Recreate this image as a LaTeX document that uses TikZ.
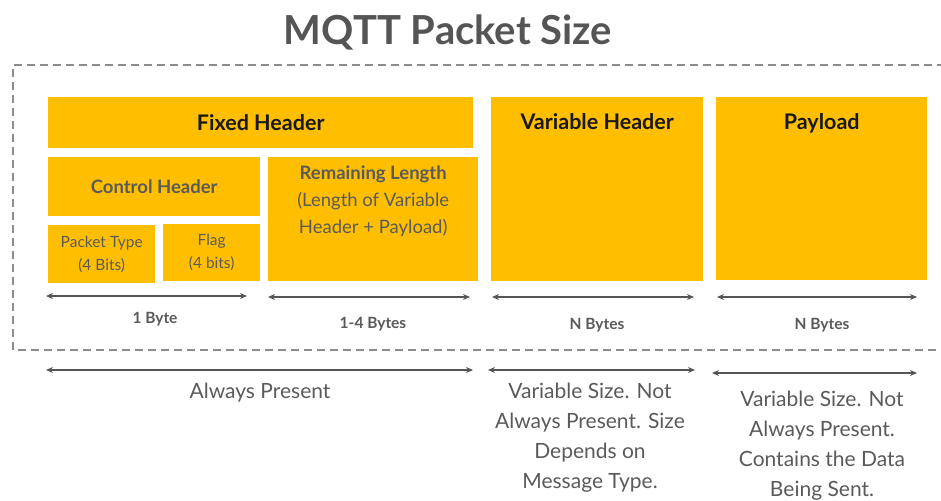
\documentclass[tikz,border=0pt]{standalone}
\usepackage{fontspec}
\setmainfont{Lato}
\usepackage{tikz}
\usetikzlibrary{positioning,arrows.meta}

\definecolor{amber}{HTML}{FFBF00}
\definecolor{txtgray}{HTML}{5A5A5A}
\definecolor{linegray}{HTML}{555555}

\begin{document}
\begin{tikzpicture}[x=1pt,y=-1pt]
\tikzstyle{blk}=[rectangle, fill=amber, inner sep=0pt, anchor=north west]
\tikzstyle{head}=[font=\fontsize{21.5}{24}\selectfont\bfseries, text=black!90, text depth=0.25ex]
\tikzstyle{sub}=[font=\fontsize{18.5}{27}\selectfont, text=txtgray, align=center]
\tikzstyle{small}=[font=\fontsize{15.5}{23}\selectfont, text=txtgray, align=center]
\tikzstyle{size}=[font=\fontsize{15.5}{17}\selectfont\bfseries, text=txtgray]
\tikzstyle{note}=[font=\fontsize{21}{30}\selectfont, text=txtgray, align=center, anchor=north]
\tikzstyle{span}=[{Stealth[length=7pt,width=6pt]}-{Stealth[length=7pt,width=6pt]}, line width=1.8pt, draw=linegray]
\useasboundingbox (0,0) rectangle (941,500);

  \node[font=\fontsize{40}{44}\selectfont\bfseries, text=linegray] (title) at (448,32) {MQTT Packet Size};

  % dashed frame, open on the right
  \draw[draw=gray!90, line width=1.5pt, dash pattern=on 8pt off 5pt] (945,65) -- (13,65) -- (13,350) -- (945,350);

  \node[blk, head, minimum width=425, minimum height=51] (fixed) at (48,97) {Fixed Header};
  \node[blk, minimum width=212, minimum height=59] (ctrl) at (48,157) {};
  \node[sub, font=\fontsize{18.5}{27}\selectfont\bfseries] at (ctrl.center) {Control Header};
  \node[blk, small, minimum width=107, minimum height=58] (ptype) at (48,225) {Packet Type\\(4 Bits)};
  \node[blk, small, minimum width=97, minimum height=57] (flag) at (163,224) {Flag\\(4 bits)};
  \node[blk, minimum width=210, minimum height=124] (remain) at (268,157) {};
  \node[sub, anchor=north] (remaintxt) at ([yshift=-5pt]remain.north) {\textbf{Remaining Length}\\(Length of Variable\\Header + Payload)};
  \node[blk, minimum width=212, minimum height=184] (varh) at (491,97) {};
  \node[head] at ([yshift=-25pt]varh.north) {Variable Header};
  \node[blk, minimum width=211, minimum height=183] (pay) at (716,97) {};
  \node[head] at ([yshift=-25pt]pay.north) {Payload};

  % byte counts
  \coordinate (b1l) at (46,296);  \coordinate (b1r) at (247,296);
  \coordinate (b2l) at (268,297); \coordinate (b2r) at (470,297);
  \coordinate (b3l) at (492,297); \coordinate (b3r) at (694,297);
  \coordinate (b4l) at (717,297); \coordinate (b4r) at (917,297);
  \draw[span] (b1l) -- (b1r);
  \draw[span] (b2l) -- (b2r);
  \draw[span] (b3l) -- (b3r);
  \draw[span] (b4l) -- (b4r);
  \node[size] (byte1) at (155,319) {1 Byte};
  \node[size] (byte2) at (373,324) {1-4 Bytes};
  \node[size] (byte3) at (597,325) {N Bytes};
  \node[size] (byte4) at (822,325) {N Bytes};

  % below the frame
  \coordinate (c1l) at (46,370);  \coordinate (c1r) at (473,370);
  \coordinate (c2l) at (488,370); \coordinate (c2r) at (695,370);
  \coordinate (c3l) at (712,373); \coordinate (c3r) at (917,373);
  \draw[span] (c1l) -- (c1r);
  \draw[span] (c2l) -- (c2r);
  \draw[span] (c3l) -- (c3r);
  \node[note] (always) at (260,379) {Always Present};
  \node[note] (varnote) at (590,379) {Variable Size. Not\\Always Present. Size\\Depends on\\Message Type.};
  \node[note] (paynote) at (822,387) {Variable Size. Not\\Always Present.\\Contains the Data\\Being Sent.};
\end{tikzpicture}
\end{document}
